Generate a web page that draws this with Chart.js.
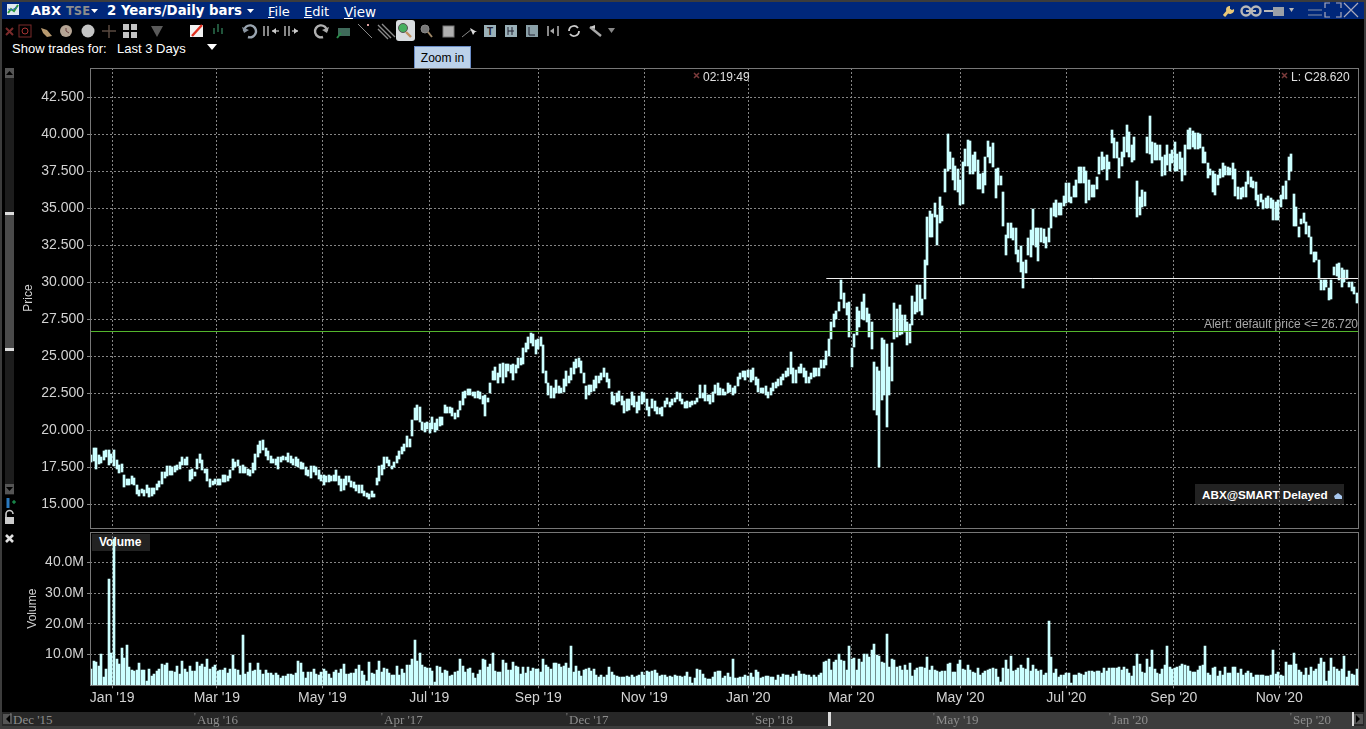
<!DOCTYPE html>
<html><head><meta charset="utf-8">
<script src="https://cdn.jsdelivr.net/npm/chart.js@4"></script>
<style>
html,body{margin:0;padding:0;background:#000;width:1366px;height:729px;overflow:hidden;font-family:"Liberation Sans",Arial,sans-serif}
.a{position:absolute;white-space:nowrap}
canvas{position:absolute;left:0}
.v{font-family:"DejaVu Sans",sans-serif;color:#fff;font-size:13px;line-height:16px}
.n{font-family:"Liberation Serif",serif;font-size:13px;color:#8d8d8d;top:712px;line-height:15px}
.n:before{content:"'";position:absolute;left:-3px;top:-3px;font-size:10px}
u{text-decoration:underline}
</style></head><body>
<div class="a" style="left:0;top:0;width:1366px;height:2px;background:#3c3c3c"></div>
<div class="a" style="left:0;top:0;width:2px;height:729px;background:#3c3c3c"></div>
<div class="a" style="left:1364px;top:0;width:2px;height:729px;background:#3c3c3c"></div>
<div class="a" style="left:2px;top:2px;width:1362px;height:17px;background:#00277a"></div>
<svg class="a" style="left:0;top:0" width="1366" height="20">
<rect x="7" y="4" width="12" height="11" fill="#dfe8f0"/><path d="M8 13l3-4 3 2 4-6" stroke="#2a9a3a" stroke-width="2" fill="none"/><path d="M8 9l4 1 5-3" stroke="#3060c0" fill="none"/>
<path d="M91 9h7l-3.5 4z" fill="#fff"/><path d="M247 9h7l-3.5 4z" fill="#fff"/>
<path d="M1224 16l6-7" stroke="#e8c878" stroke-width="3"/><path d="M1229 6a4 4 0 1 0 5 3l-2 1-2-1 0-3z" fill="#e8c878"/>
<circle cx="1246" cy="11" r="4.5" fill="none" stroke="#b8b8b8" stroke-width="2.4"/><circle cx="1256" cy="11" r="4.5" fill="none" stroke="#b8b8b8" stroke-width="2.4"/><path d="M1246 11h10" stroke="#b8b8b8" stroke-width="2"/>
<path d="M1264 11h9" stroke="#b8b8b8" stroke-width="2"/><path d="M1273 7h11v9h-11z" fill="#9aa0a8"/><path d="M1289 8h5l-2.5 4z" fill="#b8b8b8"/>
<path d="M1308 10h14M1308 15h14" stroke="#8a93a8" stroke-width="1.2"/>
<path d="M1330 3h-5v5M1336 3h5v5M1330 17h-5v-5M1336 17h5v-5" stroke="#aab" fill="none" stroke-width="1.2"/>
<path d="M1344 3l14 14M1358 3l-14 14" stroke="#aab" stroke-width="1.2"/>
</svg>
<div class="a v" style="left:31px;top:3px;font-weight:bold">ABX</div>
<div class="a v" style="left:66px;top:3px;font-weight:bold;color:#8d8d8d;font-size:11.5px">TSE</div>
<div class="a v" style="left:107px;top:3px;font-weight:bold;font-size:13.3px">2 Years/Daily bars</div>
<div class="a v" style="left:268px;top:4px"><u>F</u>ile</div>
<div class="a v" style="left:304px;top:4px"><u>E</u>dit</div>
<div class="a v" style="left:344px;top:4px;font-size:13.5px"><u>V</u>iew</div>

<svg class="a" style="left:0;top:20px" width="640" height="22" viewBox="0 20 640 22">
<rect x="396" y="20" width="19" height="21" rx="3" fill="#d9dde0"/>
<path d="M6 28l7 7M13 28l-7 7" stroke="#7a2a2a" stroke-width="2"/>
<rect x="19" y="25" width="12" height="12" fill="none" stroke="#7a2a2a"/><circle cx="25" cy="31" r="3" fill="none" stroke="#a33"/>
<path d="M41 28l6 2 5 6-5 1-4-4z" fill="#b89a70"/>
<circle cx="66" cy="31" r="6" fill="#b5a595"/><path d="M66 28v3l3 2" stroke="#6a4040" fill="none"/>
<circle cx="88" cy="31" r="6.5" fill="#c4c4c4"/>
<path d="M102 31h14M109 25v13" stroke="#5a4a40" stroke-width="1.5"/>
<rect x="123" y="24" width="6" height="6" fill="#c4c4c4"/><rect x="131" y="24" width="6" height="6" fill="#c4c4c4"/><rect x="123" y="32" width="6" height="6" fill="#c4c4c4"/><rect x="131" y="32" width="6" height="6" fill="#c4c4c4"/>
<path d="M151 26h12l-6 11z" fill="#5a5a5a"/>
<rect x="190" y="25" width="13" height="12" fill="#f2f2f2"/><path d="M192 36l10-11" stroke="#e03020" stroke-width="2.4"/>
<path d="M214 28v6M218 24v8M222 28v6" stroke="#2a6a4a" stroke-width="1.6"/>
<path d="M244 31a6 6 0 1 1 4 6" stroke="#9aa5b0" stroke-width="2.4" fill="none"/><path d="M242 27l2 6 5-3z" fill="#8a95a0"/>
<path d="M264 26v10M268 26v10M272 31h7" stroke="#a8a8a8" stroke-width="1.6"/><path d="M272 31l4-3v6z" fill="#ccc"/>
<path d="M285 26v10M289 26v10M292 31h6" stroke="#a8a8a8" stroke-width="1.6"/><path d="M298 31l-4-3v6z" fill="#ccc"/>
<path d="M327 31a6 6 0 1 0-4 6" stroke="#b0b0b0" stroke-width="2.4" fill="none"/><path d="M329 27l-2 6-5-3z" fill="#aaa"/>
<path d="M338 28h12v8h-12z" fill="#3f6a5a"/><path d="M337 38l4-5" stroke="#2a8a4a" stroke-width="2"/>
<path d="M358 24l14 14" stroke="#888"/><rect x="367" y="24" width="2" height="2" fill="#d8a0a0"/>
<path d="M378 25l13 13M382 24l13 13M378 29l10 10" stroke="#8a8a8a" stroke-width="1.4"/>
<circle cx="403" cy="28" r="4.5" fill="#45b060" stroke="#555"/><path d="M406 32l5 5" stroke="#c09060" stroke-width="2.4"/>
<circle cx="425" cy="29" r="4" fill="#777" stroke="#888"/><path d="M428 32l4 5" stroke="#a08868" stroke-width="2"/>
<rect x="443" y="26" width="11" height="11" fill="#b0b0b0" stroke="#777"/>
<path d="M462 37l10-8" stroke="#888"/><path d="M470 28l3 7 2-3 2 0z" fill="#ddd"/>
<rect x="484" y="25" width="12" height="12" fill="#9ab0b8"/><text x="490" y="35" font-size="10" font-weight="bold" text-anchor="middle" fill="#223">T</text>
<rect x="505" y="25" width="12" height="12" fill="#9ab0b8"/><path d="M508 27v8M512 27v8M514 31h-6" stroke="#223"/>
<rect x="526" y="25" width="12" height="12" fill="#8aa0a8"/><path d="M529 27v8h6" stroke="#223" fill="none"/>
<path d="M548 26v10M558 26v10" stroke="#aaa" stroke-width="1.6"/><path d="M550 31l4-3v6z" fill="#aaa"/>
<path d="M569 31a5 5 0 0 1 9-3M579 31a5 5 0 0 1-9 3" stroke="#ccc" stroke-width="1.8" fill="none"/>
<path d="M590 27l11 9" stroke="#a8a8a8" stroke-width="2.4"/><path d="M590 27l5-2v4z" fill="#ccc"/>
<path d="M608 28h7l-3.5 5z" fill="#888"/>
</svg>

<div class="a" style="left:12px;top:41px;color:#fff;font-size:13px;line-height:15px">Show trades for:</div>
<div class="a" style="left:117px;top:41px;color:#fff;font-size:13px;line-height:15px">Last 3 Days</div>
<svg class="a" style="left:207px;top:44px" width="10" height="7"><path d="M0 0h10l-5 6z" fill="#fff"/></svg>
<div class="a" style="left:414px;top:46px;width:55px;height:21px;background:#bcd2ea;border:1px solid #6a8cc6;font-size:12px;color:#000;text-align:center;line-height:22px">Zoom in</div>

<div class="a" style="left:5px;top:68px;width:9px;height:427px;background:#1d1d1d"></div>
<div class="a" style="left:5px;top:68px;width:9px;height:10px;background:#555"></div>
<svg class="a" style="left:5px;top:68px" width="9" height="10"><path d="M1 7h7l-3.5-4z" fill="#000"/></svg>
<div class="a" style="left:5px;top:212px;width:9px;height:139px;background:#4a4a4a;border-top:3px solid #ddd;border-bottom:3px solid #ddd;box-sizing:border-box"></div>
<div class="a" style="left:5px;top:484px;width:9px;height:10px;background:#555"></div>
<svg class="a" style="left:5px;top:484px" width="9" height="10"><path d="M1 3h7l-3.5 4z" fill="#000"/></svg>
<svg class="a" style="left:3px;top:495px" width="14" height="50">
<path d="M5 3v10" stroke="#2a7ac0" stroke-width="3"/><path d="M9 7h4M11 5v4" stroke="#20b060"/>
<rect x="2" y="22" width="9" height="7" fill="#ccc"/><path d="M3 22v-3a3.5 3.5 0 0 1 7 0" stroke="#ccc" stroke-width="1.6" fill="none"/>
<path d="M3 40l7 7M10 40l-7 7" stroke="#e0e0e0" stroke-width="2.6"/>
</svg>

<div class="a" style="left:1195px;top:484px;width:149px;height:21px;background:#222"></div>
<div class="a" style="left:1202px;top:487px;color:#fff;font-weight:bold;font-size:11.7px;line-height:15px">ABX@SMART Delayed</div>
<svg class="a" style="left:1333px;top:490px" width="10" height="10"><path d="M1 6l4-3 4 3v3h-7z" fill="#a8c8f0"/></svg>
<div class="a" style="left:92px;top:534px;width:58px;height:17px;background:#222"></div>
<div class="a" style="left:99px;top:535px;color:#fff;font-weight:bold;font-size:12px;line-height:15px">Volume</div>

<canvas id="priceChart" style="top:56px" width="1366" height="484"></canvas>
<canvas id="volumeChart" style="top:520px" width="1366" height="192"></canvas>

<svg class="a" style="left:693px;top:72px" width="8" height="8"><path d="M1 1l5 5M6 1l-5 5" stroke="#7a3a3a" stroke-width="1.5"/></svg>
<div class="a" style="left:703px;top:70px;color:#e0e0e0;font-size:12px;line-height:14px">02:19:49</div>
<svg class="a" style="left:1281px;top:72px" width="8" height="8"><path d="M1 1l5 5M6 1l-5 5" stroke="#7a3a3a" stroke-width="1.5"/></svg>
<div class="a" style="left:1291px;top:70px;color:#e0e0e0;font-size:12px;line-height:14px">L: C28.620</div>
<div class="a" style="right:8px;top:317px;color:#a8a8a8;font-size:12px;line-height:14px">Alert: default price &lt;= 26.720</div>

<div class="a" style="left:2px;top:712px;width:1362px;height:14px;background:#272727"></div>
<div class="a" style="left:831px;top:712px;width:521px;height:14px;background:#3c3c3c"></div>
<div class="a" style="left:2px;top:726px;width:1362px;height:3px;background:#3c3c3c"></div>
<div class="a" style="left:828px;top:712px;width:3px;height:14px;background:#ddd"></div>
<div class="a" style="left:1352px;top:712px;width:2px;height:14px;background:#ddd"></div>
<div class="a" style="left:3px;top:714px;width:9px;height:10px;background:#555"></div>
<svg class="a" style="left:3px;top:714px" width="9" height="10"><path d="M7 1v8l-4-4z" fill="#000"/></svg>
<div class="a" style="left:1354px;top:714px;width:9px;height:10px;background:#555"></div>
<svg class="a" style="left:1354px;top:714px" width="9" height="10"><path d="M2 1v8l4-4z" fill="#000"/></svg>
<div class="a n" style="left:13px">Dec '15</div>
<div class="a n" style="left:197px">Aug '16</div>
<div class="a n" style="left:384px">Apr '17</div>
<div class="a n" style="left:569px">Dec '17</div>
<div class="a n" style="left:755px">Sep '18</div>
<div class="a n" style="left:936px">May '19</div>
<div class="a n" style="left:1112px">Jan '20</div>
<div class="a n" style="left:1293px">Sep '20</div>

<script>
const priceTicks = [15,17.5,20,22.5,25,27.5,30,32.5,35,37.5,40,42.5];
const volumeTicks = [10,20,30,40];
const monthLabels = ["Jan '19","Mar '19","May '19","Jul '19","Sep '19","Nov '19","Jan '20","Mar '20","May '20","Jul '20","Sep '20","Nov '20"];
const monthBarIndex = [8.3,49.7,91.5,133.8,177,218.9,260.1,300.9,344,386,428.6,470.3];
const alertPrice = 26.72;
const levelPrice = 30.28;
const levelStartIndex = 291;

const priceHigh = [
18.35,18.85,18.8,18.35,18.2,18.6,18.7,18.7,18.4,18.7,
18.0,17.7,17.75,17.0,16.7,16.7,16.9,16.8,16.3,16.0,
16.05,16.0,16.3,16.1,16.1,16.1,16.4,16.6,17.2,17.2,
17.6,17.6,17.55,17.6,17.65,17.9,18.2,18.1,18.2,17.3,
17.4,17.2,18.1,18.4,18.0,17.4,17.4,16.7,16.6,16.7,
16.7,16.7,17.0,17.0,16.9,17.3,18.1,17.9,18.0,17.6,
17.7,17.5,17.4,17.3,17.8,18.4,19.0,19.3,19.35,18.8,
18.6,18.3,18.1,18.1,18.2,18.2,18.3,18.2,18.5,18.3,
18.1,18.2,18.1,17.9,17.8,17.5,17.3,17.6,17.6,17.5,
17.3,17.0,17.0,16.9,17.0,16.9,17.0,17.3,16.9,16.7,
16.7,16.9,16.9,16.6,16.5,16.3,16.3,16.3,15.9,15.8,
15.7,15.9,15.7,16.8,17.6,17.7,18.2,18.2,18.0,17.6,
17.9,18.3,18.6,18.9,19.1,19.6,19.4,20.7,21.5,21.7,
21.6,20.6,20.5,20.6,20.5,20.9,20.5,20.8,20.9,20.9,
21.7,21.6,21.6,21.5,21.2,21.4,22.0,22.6,22.7,22.8,
22.8,22.6,22.6,22.7,22.6,22.3,22.4,22.2,23.2,24.0,
24.3,23.9,24.5,24.55,24.5,24.5,24.4,24.5,24.4,24.9,
24.9,25.6,25.9,26.3,26.6,26.5,26.1,26.2,26.3,25.8,
24.0,23.2,23.0,22.9,23.4,23.0,22.9,23.5,24.0,23.7,
24.2,24.6,24.8,24.9,24.7,23.9,23.0,23.1,23.1,23.4,
23.7,23.7,23.9,24.2,23.9,23.5,22.6,22.3,22.5,22.7,
22.3,22.0,22.1,22.1,22.6,22.3,21.9,22.3,22.6,22.5,
22.1,21.6,22.1,22.0,21.6,21.5,21.6,22.0,22.2,21.9,
22.1,22.2,22.6,22.5,22.1,21.9,22.0,21.9,22.0,22.0,
22.2,23.1,22.5,23.1,22.4,22.4,22.6,23.1,23.2,22.9,
22.8,22.6,23.2,23.1,22.9,23.0,23.6,23.9,24.0,24.0,
24.1,24.1,24.2,23.6,23.5,22.9,22.9,23.0,22.6,22.9,
23.2,23.3,23.5,23.6,23.8,24.0,24.2,25.3,24.2,24.1,
24.3,24.5,24.2,24.0,23.6,23.9,24.2,24.2,24.2,24.75,
24.75,25.4,26.15,27.3,27.9,28.1,28.7,30.2,29.3,28.6,
28.65,25.6,26.55,28.35,28.1,28.7,29.25,28.25,27.9,27.3,
24.65,24.3,24.0,26.25,26.1,25.85,24.3,25.9,28.6,28.2,
28.45,27.8,27.8,27.35,27.2,29.1,28.7,29.8,29.85,28.9,
31.5,34.45,34.8,34.65,35.35,34.55,35.75,35.15,37.65,40.05,
38.8,38.4,37.9,37.65,36.9,38.15,39.0,39.65,39.55,38.6,
38.8,38.25,37.3,37.4,38.45,39.55,39.15,39.4,37.7,37.75,
37.2,36.1,33.2,34.05,34.0,33.65,33.7,32.2,32.45,31.4,
31.5,33.0,33.55,34.95,33.7,33.7,33.65,33.6,33.1,33.7,
35.0,35.35,35.55,35.35,35.4,35.85,36.7,36.7,35.8,36.5,
36.9,37.8,37.8,37.8,37.5,36.9,36.6,36.6,37.15,38.5,
38.8,38.5,38.6,38.15,40.3,39.75,39.5,38.4,38.8,39.85,
40.65,40.2,39.3,39.85,36.85,35.8,36.25,36.1,39.8,41.25,
39.5,39.4,39.3,39.3,38.5,38.6,39.3,38.7,38.95,39.5,
38.7,38.85,38.4,39.3,40.3,40.45,40.25,40.1,40.1,40.05,
39.15,38.8,38.1,37.7,37.5,37.35,37.25,37.7,38.1,37.9,
37.8,37.75,38.1,37.7,36.45,36.4,36.45,36.8,37.5,37.15,
36.85,36.8,35.9,36.0,35.55,35.7,35.85,35.7,35.55,35.45,
35.55,35.9,36.55,36.85,38.5,38.7,36.0,35.1,33.75,34.3,
34.7,34.1,33.85,33.1,32.05,32.05,31.5,30.15,30.15,30.15,
29.6,30.15,31.05,31.25,31.3,30.95,30.85,30.85,30.05,30.0,
29.7,29.3];

const priceLow = [
17.9,17.95,17.4,17.75,17.8,18.0,18.2,17.7,17.8,17.6,
17.4,17.15,17.2,16.2,16.3,16.3,16.4,16.3,15.7,15.6,
15.75,15.6,15.8,15.5,15.6,15.7,16.0,16.2,16.4,16.8,
16.9,17.0,17.0,17.2,17.3,17.4,17.7,17.7,17.7,16.6,
16.7,16.9,17.4,17.8,17.3,17.1,16.6,16.2,16.3,16.4,
16.3,16.3,16.5,16.5,16.6,16.8,17.3,17.5,17.6,17.1,
17.1,17.1,17.0,16.9,17.1,17.3,18.2,18.5,18.7,18.3,
18.0,17.8,17.8,17.7,17.4,17.9,18.0,18.0,17.9,17.8,
17.7,17.6,17.5,17.4,17.4,17.0,16.9,16.8,17.2,17.0,
16.7,16.6,16.3,16.5,16.5,16.6,16.6,16.6,16.3,15.9,
16.0,16.3,16.5,16.2,16.1,15.9,15.8,15.8,15.6,15.5,
15.4,15.5,15.5,16.3,16.6,17.0,17.4,17.8,17.6,17.4,
17.5,17.8,18.1,18.4,18.6,18.9,18.9,19.6,20.7,20.7,
20.6,20.0,19.9,20.1,19.8,20.1,19.9,20.0,20.3,20.4,
21.2,21.2,21.2,21.0,20.8,20.9,21.4,21.7,22.2,22.4,
22.4,22.3,22.2,22.2,22.1,21.8,20.95,21.9,22.5,23.4,
23.4,23.2,23.6,23.2,23.6,24.0,23.9,23.4,23.9,24.2,
24.4,24.5,25.3,25.5,25.9,25.7,25.2,25.5,25.7,23.9,
23.2,22.4,22.2,22.2,22.5,22.5,22.5,22.6,23.0,23.2,
23.4,23.8,24.2,24.3,23.9,23.2,22.1,22.4,22.6,22.7,
22.9,23.2,23.4,23.6,23.3,22.9,21.8,21.7,21.9,22.0,
21.7,21.2,21.3,21.4,21.7,21.6,21.2,21.4,21.8,21.9,
21.4,21.0,21.5,21.3,21.1,21.1,21.0,21.6,21.8,21.6,
21.7,21.9,22.1,22.0,21.8,21.5,21.5,21.6,21.7,21.8,
21.9,22.2,22.2,22.0,22.0,21.8,21.9,22.5,22.4,22.4,
22.4,22.4,22.5,22.6,22.4,22.5,23.0,23.5,23.6,23.4,
23.6,23.3,23.4,23.1,22.6,22.5,22.5,22.4,22.2,22.4,
22.7,22.9,23.0,23.1,23.4,23.6,23.7,23.8,23.2,23.2,
23.9,23.9,23.6,23.2,23.2,23.5,23.6,23.7,23.7,24.2,
24.2,24.4,25.0,26.2,27.0,27.5,28.1,28.9,28.25,27.8,
26.3,24.3,25.65,26.45,27.0,27.5,27.45,27.35,26.3,25.5,
21.4,21.05,17.55,22.05,22.4,20.25,22.4,23.35,26.2,26.3,
26.45,26.55,26.65,25.75,25.9,27.1,27.85,28.0,28.1,27.8,
28.9,31.2,33.1,33.05,34.45,32.55,34.0,34.15,36.1,37.5,
37.7,36.95,36.25,36.1,35.25,35.3,37.9,37.9,37.35,37.35,
37.5,36.35,36.35,36.05,36.6,38.45,38.05,37.8,35.7,36.6,
36.6,33.85,31.85,33.0,33.0,32.85,31.95,31.4,30.7,29.65,
30.65,31.85,31.7,32.55,32.4,31.45,32.75,32.7,32.35,32.75,
33.65,34.5,34.45,34.55,34.55,35.2,35.35,35.45,35.4,35.75,
35.75,36.7,36.7,36.7,35.35,35.6,35.75,35.75,36.35,37.35,
37.6,37.7,36.95,37.65,39.4,38.4,38.4,37.05,37.9,38.5,
38.85,38.5,38.15,38.25,34.4,34.55,35.1,35.15,38.75,38.7,
38.05,38.25,38.25,38.25,37.2,37.25,37.95,37.5,38.05,37.5,
37.5,37.7,36.85,37.25,39.05,39.05,39.15,39.05,39.0,39.1,
38.05,38.1,37.05,37.25,36.1,35.9,36.6,37.05,37.15,37.25,
37.25,37.25,37.0,35.85,35.65,35.65,35.75,35.75,36.65,36.45,
36.4,35.55,35.2,35.45,34.95,35.0,35.0,35.0,34.2,34.2,
34.25,35.1,35.65,35.65,36.9,37.5,33.8,33.8,33.1,33.95,
34.0,33.25,33.1,31.95,31.4,31.5,30.25,29.5,29.5,29.7,
28.85,28.9,30.5,30.45,30.15,29.7,30.05,30.25,29.7,29.4,
29.25,28.6];

const volumeM = [
5.3,7.9,7.7,6.3,10.1,2.8,5.3,34.7,10.4,47.5,
8.6,7,12.2,8.8,13.1,5.9,5,4.8,5.1,7.3,
5,5,1.4,5.2,3,3.8,4.5,5.2,6.8,6.6,
7.2,4.7,4.5,4.3,6.2,3.7,7.9,5.3,4.2,6.2,
4.8,4.7,7.5,6.3,6.8,5.8,8.5,5.3,5.8,6.6,
4.7,4.9,5.1,5.6,4,5.3,9.9,5.2,4.9,3.4,
16.4,3.7,4.3,7.2,4.8,5,7.2,5,3.8,4.9,
4,3.9,3.4,4,3.3,2.5,3,3,3.7,3.7,
3.4,4,7.9,7.1,4.3,2.4,4.3,4.3,5.3,3.8,
3.5,4.3,5.3,4.8,3.8,2.3,4.3,5.1,4,5.3,
6.8,3.7,3.7,4,4,5.3,6.6,4.8,3.4,1.3,
7.6,4,3.7,5,7.9,4.3,5.5,5.3,4,3.2,
3.2,6.3,3.4,5.3,4,6.6,6.6,8.6,14.8,7.9,
10.4,6.6,6.1,5.5,5.5,4.7,1.1,6.3,6,4,
4.9,4.7,
3.1,3.3,4.3,4.6,8.7,6.2,4.2,5.2,5.5,4,
2.5,3.7,4.9,8.7,8.2,5.8,6.8,10.6,4.8,4.3,
4.3,8.2,7.3,4.9,4.9,7.5,6.2,6,3.7,5.8,
4.1,5.8,4.5,5.5,5.3,5.2,4.3,8.5,6.6,5.8,
5.2,7.1,7.1,6.9,5.8,6.2,7.1,5.7,12.7,4.4,
6.2,4.7,3,4.9,5.3,5.7,4.5,5.2,3.4,2.6,
3.3,2.6,3.4,5.8,4.4,3.3,3,2.6,2.6,2.6,
3,2.6,3.2,2.6,3,3.2,4.3,3.3,4.5,4.3,
4.7,4.9,3.9,3,3.3,3.4,2.6,3,2.6,3.2,
3,3,2.6,3,4.2,2.6,0.7,2.3,5.2,4.9,
3.7,2.3,2.2,2.2,2.8,4.3,4.7,4.6,2.5,3,
4.1,2.6,8.7,2.4,2.4,2.6,2.6,3.2,3,3.9,
2.6,4.9,4.3,2.4,2.8,3,3,2.6,2.6,1.7,
3.4,2.6,3.7,3.4,3.2,2.6,3.7,3.0,4.7,3.7,
3.7,3.4,3.4,2.6,3.2,2.6,3.2,3.9,7.7,8,
8.7,4.9,7.5,8.2,10.3,8.2,8,4.9,12.7,8.4,
9,4.9,8.7,7.6,10.3,10.1,9.2,11.6,13.5,9.9,
9.5,7.5,7.3,16.8,6,8.7,8.2,6,
6.2,4.9,6.5,4.9,7.1,3,4.9,5.5,5.8,5.9,
5.6,9.1,4.9,6.3,4.9,4.7,4.3,4.5,4.6,6.9,
7.1,4.2,4.3,6.8,8.2,5.2,5.1,6.6,5.1,4.4,
3.9,5.5,3.2,3.9,4.7,4.9,5.4,5.6,5.2,2.6,
1.2,5.5,8.2,5.3,9.5,4.7,4.9,5.5,6.5,5.5,
5.2,9,4.7,6.7,5.3,4.5,4.9,3.2,3.9,21,
9.1,4.1,5.3,2.6,3.4,3.2,4.1,4.1,0.6,3.2,
3.4,4.1,3.7,3.4,4.3,4.8,4.8,4.3,4.5,4.8,
4.1,5.5,4.5,5.6,5.6,5.6,5.5,5.8,4.9,5.9,
5.4,3.9,3,6.2,10.3,6.9,4.4,3.9,8.7,6,
11.4,5.2,4.1,3.7,5.2,6.6,12.7,6,5.4,5.6,
6,6.3,6.8,6.7,6.3,4.7,4.2,4.4,4.9,6.3,
6.6,12.7,3.9,3.4,5.6,5.8,3,4.7,3.4,5.8,
3.9,3.9,5.8,5.8,4.1,5.2,3.4,3.9,4.5,3.9,
2.6,3.3,3.3,3.3,3.3,3,3,3.2,11.6,3.7,
4.3,3.2,3,7.7,6.7,6.5,10.6,6.8,4.9,4.4,
3.3,5.6,3.4,5.8,4.7,5.2,6.9,9,7.6,1.3,
4.6,9,5.8,5.3,4.5,5.2,9.5,2.8,4.6,3.7,
3.3,5.3];

const categories = priceHigh.map((_, i) => i);
const priceRanges = priceLow.map((lo, i) => [lo, priceHigh[i]]);

const GRID = '#858585', BORDER = '#777777', TEXT = '#d2d2d2', BAR = '#ccffff';
const FONT = '"Liberation Sans", Arial, sans-serif';
Chart.defaults.animation = false;
Chart.defaults.devicePixelRatio = 1;

const snap = {id:'snap', beforeDatasetsDraw(c){
  c.getDatasetMeta(0).data.forEach(el=>{
    el.x = Math.round(el.x);
    el.y = Math.round(el.y);
    el.base = Math.round(el.base);
  });
}};
const frame = {id:'frame', afterDraw(c){
  const a = c.chartArea, g = c.ctx;
  g.save(); g.strokeStyle = BORDER; g.lineWidth = 1; g.setLineDash([]);
  g.strokeRect(Math.floor(a.left)+.5, Math.floor(a.top)+.5, Math.round(a.right-a.left), Math.round(a.bottom-a.top));
  g.restore();
}};
const levels = {id:'levels', afterDatasetsDraw(c){
  const a = c.chartArea, g = c.ctx, y = c.scales.y, x = c.scales.x;
  g.save(); g.lineWidth = 1;
  g.strokeStyle = '#53b52c';
  let p = Math.round(y.getPixelForValue(alertPrice))+.5;
  g.beginPath(); g.moveTo(a.left,p); g.lineTo(a.right,p); g.stroke();
  g.strokeStyle = '#f0f0f0';
  p = Math.round(y.getPixelForValue(levelPrice))+.5;
  g.beginPath(); g.moveTo(x.getPixelForValue(levelStartIndex),p); g.lineTo(a.right,p); g.stroke();
  g.restore();
}};
function xAxis(showLabels){
  return {
    type:'category', offset:true,
    grid:{offset:false, color:GRID, tickColor:GRID, drawTicks:showLabels, tickLength:3},
    border:{display:false, dash:[2,2]},
    ticks:{display:showLabels, autoSkip:false, maxRotation:0, color:TEXT, padding:1,
      font:{family:FONT,size:14}, callback:(v,i)=>monthLabels[i]},
    afterBuildTicks:s=>{s.ticks = monthBarIndex.map(v=>({value:v}));},
    afterFit:s=>{s.height = showLabels ? 26.7 : 0;}
  };
}
function yAxis(tickVals,min,max,fmt,title,titlePad){
  return {
    min, max, position:'left',
    grid:{color:GRID, tickColor:GRID, tickLength:3},
    border:{display:false, dash:[2,2]},
    title:{display:true, text:title, color:TEXT, font:{family:FONT,size:12}, padding:titlePad},
    ticks:{color:TEXT, padding:3, font:{family:FONT,size:14}, autoSkip:false, callback:fmt},
    afterBuildTicks:s=>{s.ticks = tickVals.map(v=>({value:v}));},
    afterFit:s=>{s.width = 90;}
  };
}
new Chart(document.getElementById('priceChart'),{
  type:'bar',
  data:{labels:categories,datasets:[{data:priceRanges,backgroundColor:BAR,barThickness:2,borderWidth:0}]},
  plugins:[snap,frame,levels],
  options:{responsive:false,maintainAspectRatio:false,
    layout:{padding:{top:12,bottom:12,left:0,right:8}},
    plugins:{legend:{display:false},tooltip:{enabled:false}},
    scales:{x:xAxis(false),y:yAxis(priceTicks,13.412,44.493,v=>v.toFixed(3),'Price',{top:21,bottom:0})}}
});
new Chart(document.getElementById('volumeChart'),{
  type:'bar',
  data:{labels:categories,datasets:[{data:volumeM,backgroundColor:BAR,barThickness:2,borderWidth:0}]},
  plugins:[snap,frame],
  options:{responsive:false,maintainAspectRatio:false,
    layout:{padding:{top:12,bottom:0,left:0,right:8}},
    plugins:{legend:{display:false},tooltip:{enabled:false}},
    scales:{x:xAxis(true),y:yAxis(volumeTicks,0,49.85,v=>v.toFixed(1)+'M','Volume',{top:25,bottom:0})}}
});
</script>
</body></html>
